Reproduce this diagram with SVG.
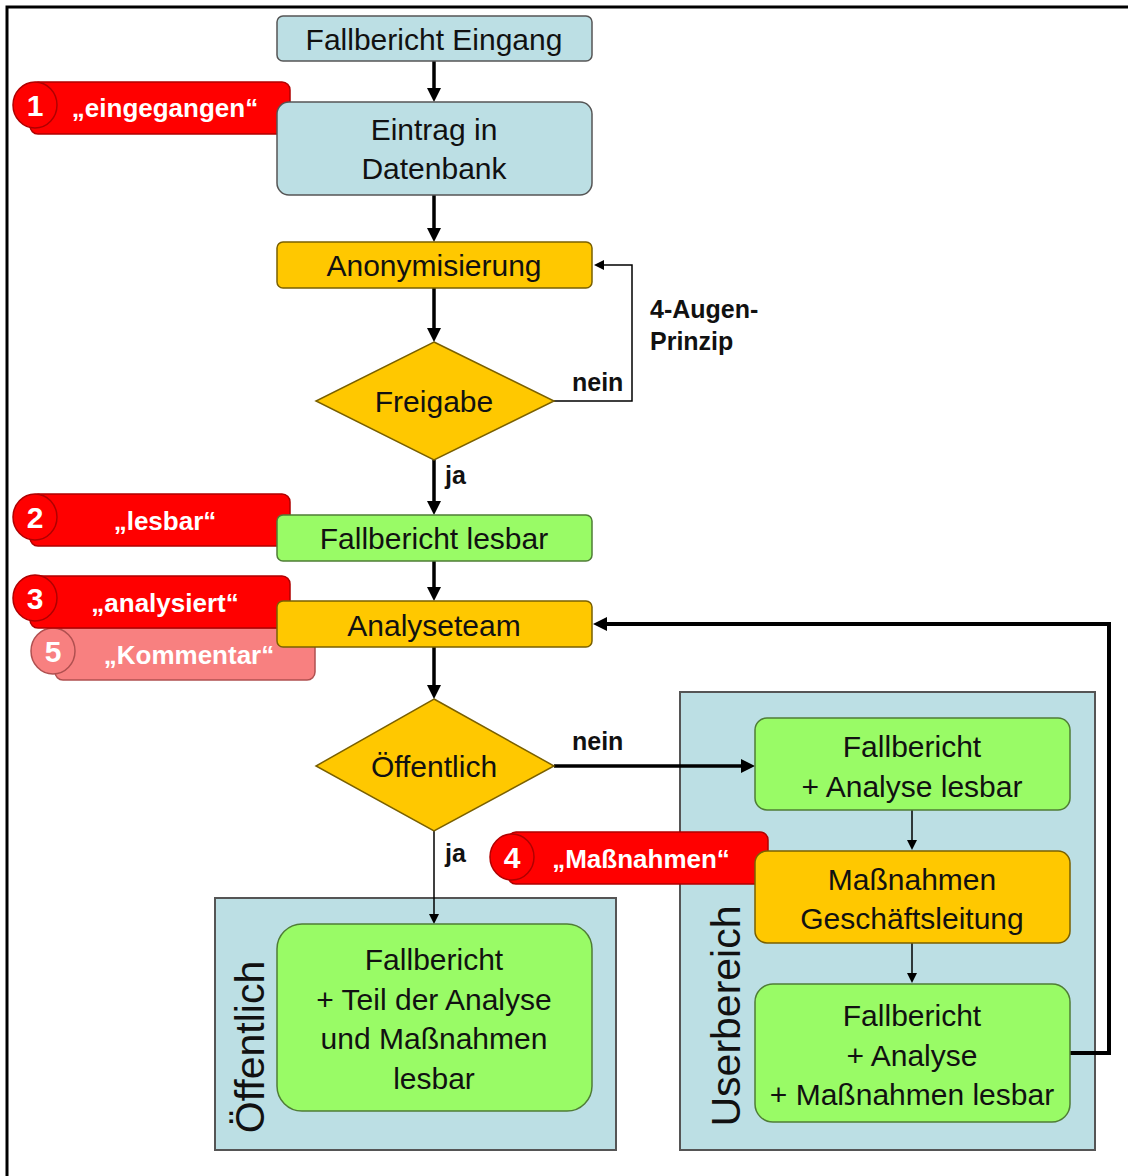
<svg xmlns="http://www.w3.org/2000/svg" width="1128" height="1176" viewBox="0 0 1128 1176">
<style>
.t{font-family:"Liberation Sans",Arial,sans-serif;font-size:30px;fill:#111;text-anchor:middle}
.lb{font-family:"Liberation Sans",Arial,sans-serif;font-size:25px;font-weight:bold;fill:#111}
.tg{font-family:"Liberation Sans",Arial,sans-serif;font-size:26px;font-weight:bold;fill:#fff;text-anchor:middle}
.num{font-family:"Liberation Sans",Arial,sans-serif;font-size:30px;font-weight:bold;fill:#fff;text-anchor:middle}
.vt{font-family:"Liberation Sans",Arial,sans-serif;font-size:41px;fill:#111;text-anchor:middle}
.blue{fill:#bcdfe4;stroke:#555;stroke-width:1.5}
.gold{fill:#ffc800;stroke:#7a6000;stroke-width:1.5}
.green{fill:#99fb66;stroke:#4f7d36;stroke-width:1.5}
.cont{fill:#bcdfe4;stroke:#555;stroke-width:2}
.red{fill:#ff0000;stroke:#b00000;stroke-width:1.5}
.pink{fill:#f88080;stroke:#b05050;stroke-width:1.5}
.thick{fill:none;stroke:#000;stroke-width:3.5}
.thin{fill:none;stroke:#000;stroke-width:1.5}
</style>
<defs>
<marker id="ah" markerUnits="userSpaceOnUse" markerWidth="14" markerHeight="16" viewBox="0 0 14 16" refX="6" refY="8" orient="auto"><path d="M0,1 L14,8 L0,15 z" fill="#000"/></marker>
<marker id="as" markerUnits="userSpaceOnUse" markerWidth="10" markerHeight="10" viewBox="0 0 10 10" refX="4" refY="5" orient="auto"><path d="M0,0 L10,5 L0,10 z" fill="#000"/></marker>
</defs>
<rect width="1128" height="1176" fill="#fff"/>
<path d="M7,1176 V7 H1128" fill="none" stroke="#000" stroke-width="3"/>

<g id="container-oeffentlich">
<rect class="cont" x="215" y="898" width="401" height="252"/>
<text class="vt" transform="translate(264,1047) rotate(-90)">Öffentlich</text>
</g>
<g id="container-userbereich">
<rect class="cont" x="680" y="692" width="415" height="458"/>
<text class="vt" transform="translate(740,1016) rotate(-90)">Userbereich</text>
</g>

<g id="connectors">
<line class="thick" x1="434" y1="61" x2="434" y2="94" marker-end="url(#ah)"/>
<line class="thick" x1="434" y1="195" x2="434" y2="234" marker-end="url(#ah)"/>
<line class="thick" x1="434" y1="288" x2="434" y2="334" marker-end="url(#ah)"/>
<path class="thin" d="M554,401 H632 V265 H600" marker-end="url(#as)"/>
<line class="thick" x1="434" y1="460" x2="434" y2="507" marker-end="url(#ah)"/>
<line class="thick" x1="434" y1="561" x2="434" y2="593" marker-end="url(#ah)"/>
<line class="thick" x1="434" y1="647" x2="434" y2="691" marker-end="url(#ah)"/>
<line class="thick" x1="554" y1="766" x2="747" y2="766" marker-end="url(#ah)"/>
<line class="thin" x1="434" y1="831" x2="434" y2="918" marker-end="url(#as)"/>
<line class="thin" x1="912" y1="810" x2="912" y2="844" marker-end="url(#as)"/>
<line class="thin" x1="912" y1="943" x2="912" y2="977" marker-end="url(#as)"/>
<path d="M1070,1053 H1109 V624 H601" fill="none" stroke="#000" stroke-width="4" marker-end="url(#ah)"/>
<text class="lb" x="572" y="391">nein</text>
<text class="lb" x="650" y="318">4-Augen-</text>
<text class="lb" x="650" y="350">Prinzip</text>
<text class="lb" x="445" y="484">ja</text>
<text class="lb" x="572" y="750">nein</text>
<text class="lb" x="445" y="862">ja</text>
</g>

<g id="tag1">
<rect class="red" x="30" y="82" width="260" height="52" rx="8"/>
<ellipse class="red" cx="35" cy="105" rx="22" ry="23"/>
<text class="num" x="35" y="116">1</text>
<text class="tg" x="165" y="117">„eingegangen“</text>
</g>
<g id="tag2">
<rect class="red" x="30" y="494" width="260" height="52" rx="8"/>
<ellipse class="red" cx="35" cy="517" rx="22" ry="23"/>
<text class="num" x="35" y="528">2</text>
<text class="tg" x="165" y="530">„lesbar“</text>
</g>
<g id="tag5">
<rect class="pink" x="55" y="628" width="260" height="52" rx="8"/>
<ellipse class="pink" cx="53" cy="651" rx="22" ry="23"/>
<text class="num" x="53" y="662">5</text>
<text class="tg" x="189" y="664">„Kommentar“</text>
</g>
<g id="tag3">
<rect class="red" x="30" y="576" width="260" height="52" rx="8"/>
<ellipse class="red" cx="35" cy="598" rx="22" ry="23"/>
<text class="num" x="35" y="609">3</text>
<text class="tg" x="165" y="612">„analysiert“</text>
</g>
<g id="tag4">
<rect class="red" x="508" y="832" width="260" height="52" rx="8"/>
<ellipse class="red" cx="512" cy="857" rx="22" ry="23"/>
<text class="num" x="512" y="868">4</text>
<text class="tg" x="641" y="868">„Maßnahmen“</text>
</g>

<g id="n-eingang">
<rect class="blue" x="277" y="16" width="315" height="45" rx="6"/>
<text class="t" x="434" y="50">Fallbericht Eingang</text>
</g>
<g id="n-datenbank">
<rect class="blue" x="277" y="102" width="315" height="93" rx="12"/>
<text class="t" x="434" y="140">Eintrag in</text>
<text class="t" x="434" y="179">Datenbank</text>
</g>
<g id="n-anonym">
<rect class="gold" x="277" y="242" width="315" height="46" rx="6"/>
<text class="t" x="434" y="276">Anonymisierung</text>
</g>
<g id="n-freigabe">
<polygon class="gold" points="434,342 554,401 434,460 316,401"/>
<text class="t" x="434" y="412">Freigabe</text>
</g>
<g id="n-lesbar">
<rect class="green" x="277" y="515" width="315" height="46" rx="6"/>
<text class="t" x="434" y="549">Fallbericht lesbar</text>
</g>
<g id="n-analyseteam">
<rect class="gold" x="277" y="601" width="315" height="46" rx="6"/>
<text class="t" x="434" y="636">Analyseteam</text>
</g>
<g id="n-oeffentlich-dec">
<polygon class="gold" points="434,699 554,766 434,831 316,766"/>
<text class="t" x="434" y="777">Öffentlich</text>
</g>
<g id="n-oeff-lesbar">
<rect class="green" x="277" y="924" width="315" height="187" rx="25"/>
<text class="t" x="434" y="970">Fallbericht</text>
<text class="t" x="434" y="1010">+ Teil der Analyse</text>
<text class="t" x="434" y="1049">und Maßnahmen</text>
<text class="t" x="434" y="1089">lesbar</text>
</g>
<g id="n-user-analyse">
<rect class="green" x="755" y="718" width="315" height="92" rx="12"/>
<text class="t" x="912" y="757">Fallbericht</text>
<text class="t" x="912" y="797">+ Analyse lesbar</text>
</g>
<g id="n-massnahmen">
<rect class="gold" x="755" y="851" width="315" height="92" rx="12"/>
<text class="t" x="912" y="890">Maßnahmen</text>
<text class="t" x="912" y="929">Geschäftsleitung</text>
</g>
<g id="n-user-alles">
<rect class="green" x="755" y="984" width="315" height="138" rx="18"/>
<text class="t" x="912" y="1026">Fallbericht</text>
<text class="t" x="912" y="1066">+ Analyse</text>
<text class="t" x="912" y="1105">+ Maßnahmen lesbar</text>
</g>
</svg>
